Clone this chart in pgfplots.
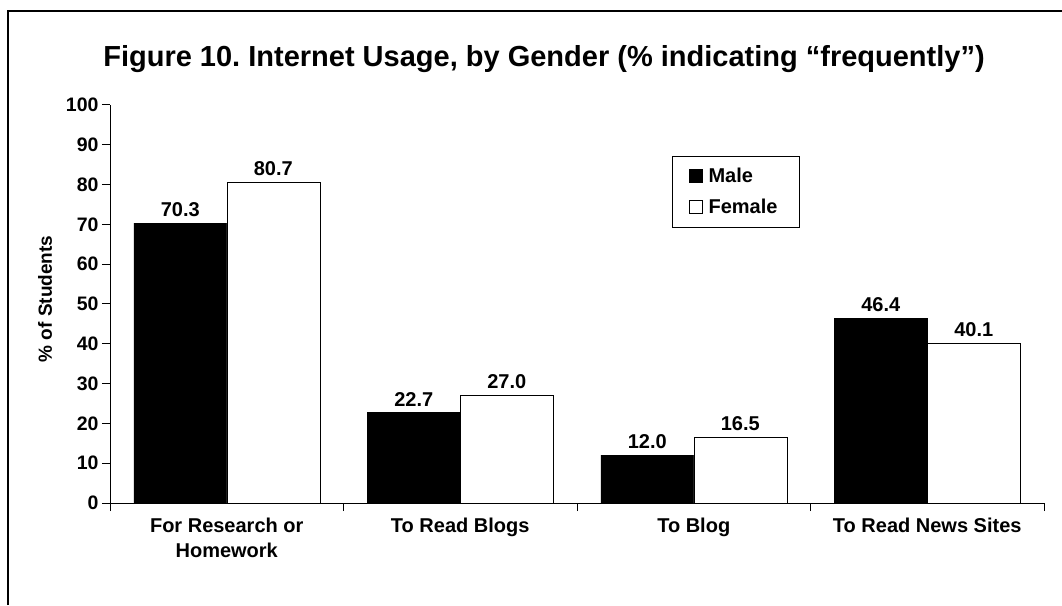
\documentclass[border=0pt]{standalone}
\usepackage{pgfplots}
\pgfplotsset{compat=1.18}
\usepackage{fontspec}
\setmainfont{Liberation Sans}
\begin{document}
\begin{tikzpicture}[x=1pt,y=1pt]
\useasboundingbox (0,0) rectangle (1062,605);
\draw[line width=2pt] (8,0) -- (8,594) -- (1062,594);
\node[anchor=base, font=\bfseries\fontsize{29}{34}\selectfont] at (544,538)
  {Figure 10.\ Internet Usage, by Gender (\% indicating “frequently”)};
\node[rotate=90, font=\bfseries\fontsize{19}{22}\selectfont] at (45,306) {\% of Students};
\begin{axis}[
  at={(110pt,102pt)}, anchor=south west,
  scale only axis, width=934pt, height=398pt,
  xmin=0, xmax=4, ymin=0, ymax=100,
  axis x line*=bottom, axis y line*=left,
  axis line style={line width=1pt, -},
  ybar=0pt, bar width=93pt,
  ytick={0,10,...,100},
  xtick={0,1,2,3,4}, xticklabels={},
  extra x ticks={0.5,1.5,2.5,3.5},
  extra x tick labels={For Research or\\Homework, To Read Blogs, To Blog, To Read News Sites},
  extra x tick style={tick style={draw=none}},
  xticklabel style={align=center, font=\bfseries\fontsize{20}{25}\selectfont, yshift=-3pt},
  yticklabel style={font=\bfseries\fontsize{19.5}{22}\selectfont},
  /pgf/number format/assume math mode=true,
  tick align=outside, major tick length=8pt,
  tick style={line width=1pt, black},
  nodes near coords,
  nodes near coords style={font=\bfseries\fontsize{20}{22}\selectfont, yshift=3pt,
    /pgf/number format/.cd, fixed, fixed zerofill, precision=1, assume math mode=true},
  legend style={at={(0.602,0.872)}, anchor=north west, draw=black, line width=1pt,
    font=\bfseries\fontsize{20}{22}\selectfont, inner xsep=16pt, inner ysep=10pt,
    row sep=11pt, nodes={inner xsep=6pt}},
  legend cell align=left,
  legend image code/.code={\draw[#1, line width=0.8pt] (0pt,-6pt) rectangle (13pt,7pt);},
]
\addplot[fill=black, draw=black] coordinates {(0.5,70.3) (1.5,22.7) (2.5,12.0) (3.5,46.4)};
\addplot[fill=white, draw=black] coordinates {(0.5,80.7) (1.5,27.0) (2.5,16.5) (3.5,40.1)};
\legend{Male, Female}
\end{axis}
\end{tikzpicture}
\end{document}
